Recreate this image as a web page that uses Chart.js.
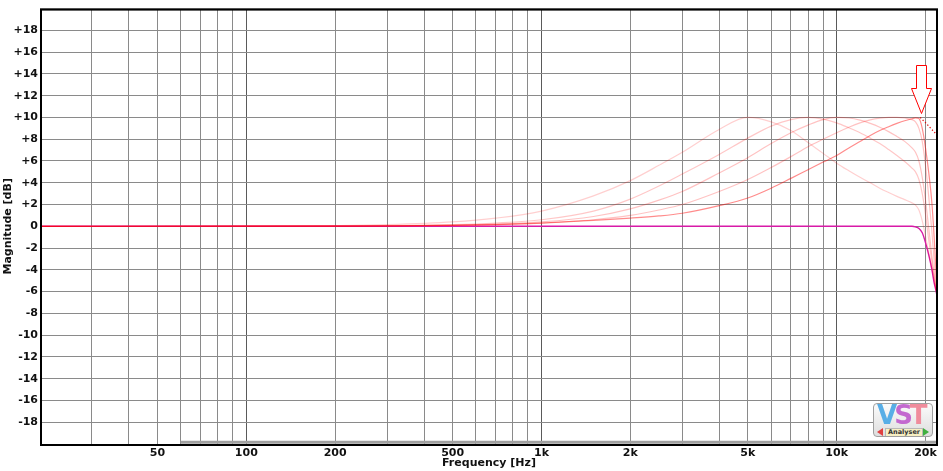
<!DOCTYPE html>
<html>
<head>
<meta charset="utf-8">
<script src="https://cdn.jsdelivr.net/npm/chart.js@4.4.1/dist/chart.umd.min.js"></script>
<style>
  html,body{margin:0;padding:0;background:#fff;}
  #wrap{position:relative;width:943px;height:471px;}
  #c{position:absolute;left:0;top:0;}
  #logo{position:absolute;left:873px;top:403px;width:58px;height:32px;border:1px solid #a0a0a0;border-radius:4px;
        background:linear-gradient(#fbfbfb,#dedede);overflow:hidden;}
  #logo .vst{position:absolute;left:3px;top:-3px;font:bold 26px "DejaVu Sans";letter-spacing:-3px;line-height:28px;}
  #logo .lab{position:absolute;left:11px;top:24px;width:36px;height:7px;background:#f7efc2;border:1px solid #b8b8b8;
        font:bold 6.5px "DejaVu Sans";line-height:7px;text-align:center;color:#333;}
  #logo .al{position:absolute;left:3px;top:24px;width:0;height:0;border-top:4.5px solid transparent;border-bottom:4.5px solid transparent;border-right:6px solid #e04040;}
  #logo .ar{position:absolute;left:49px;top:24px;width:0;height:0;border-top:4.5px solid transparent;border-bottom:4.5px solid transparent;border-left:6px solid #40b040;}
</style>
</head>
<body>
<div id="wrap">
<canvas id="c" width="943" height="471"></canvas>
<div id="logo">
  <div class="vst"><span style="color:#58aee6">V</span><span style="color:#c368cf">S</span><span style="color:#f08c9c">T</span></div>
  <div class="al"></div><div class="lab">Analyser</div><div class="ar"></div>
</div>
</div>
<script>
// ---- data ----
const freqs = [20,100,200,300,500,700,1000,1500,2000,2500,3000,4000,5000,6000,7000,8000,9000,10000,11000,12000,13000,14000,15000,16000,17000,18000,18500,19000,19500,20000,20500,21000,21400,21700,22050];
const bell5k  = [0,0.02,0.07,0.15,0.4,0.75,1.4,2.8,4.2,5.6,6.8,8.9,10.0,9.6,8.8,7.7,6.7,5.8,5.1,4.5,4.0,3.5,3.1,2.75,2.45,2.15,1.95,1.5,0.5,-0.9,-2.4,-3.8,-5.0,-5.8,-6.8];
const bell8k  = [0,0.01,0.03,0.06,0.15,0.3,0.6,1.4,2.5,3.7,4.8,6.6,8.1,9.2,9.8,10.0,9.85,9.5,9.05,8.6,8.1,7.6,7.05,6.5,5.95,5.35,5.0,4.3,3.0,1.1,-1.2,-3.2,-4.7,-5.7,-6.8];
const bell10k = [0,0.01,0.02,0.04,0.1,0.2,0.4,0.9,1.6,2.4,3.2,4.9,6.3,7.6,8.6,9.3,9.8,10.0,9.95,9.75,9.45,9.1,8.7,8.25,7.8,7.2,6.8,6.0,4.5,2.4,-0.1,-2.6,-4.4,-5.6,-6.8];
const bell15k = [0,0.01,0.02,0.03,0.08,0.15,0.3,0.6,1.0,1.5,2.0,3.2,4.3,5.4,6.4,7.3,8.0,8.6,9.1,9.5,9.78,9.93,10.0,10.0,9.95,9.8,9.6,9.0,7.8,5.6,2.8,-0.3,-3.2,-5.2,-6.8];
const bell19k = [0,0.01,0.02,0.03,0.08,0.15,0.3,0.55,0.75,0.95,1.2,1.9,2.6,3.5,4.4,5.2,5.9,6.5,7.2,7.8,8.35,8.8,9.15,9.45,9.7,9.88,9.97,9.9,9.0,7.2,5.0,2.3,-1.0,-4.0,-6.8];
const lowpass = [0,0,0,0,0,0,0,0,0,0,0,0,0,0,0,0,0,0,0,0,0,0,0,0,0,0,-0.05,-0.2,-0.6,-1.5,-2.6,-3.9,-5.2,-5.9,-6.8];
const analogFreqs = [19200,20200,21000,21700,22050];
const analogDb    = [10.0,9.4,8.9,8.5,8.3];
const rangeFreqs  = [60,22050];
const rangeDb     = [-19.85,-19.85];
const gridFreqs = [20,30,40,50,60,70,80,90,100,200,300,400,500,600,700,800,900,1000,2000,3000,4000,5000,6000,7000,8000,9000,10000,20000];
const decadeFreqs = [100,1000,10000];
const freqLabels = {50:'50',100:'100',200:'200',500:'500',1000:'1k',2000:'2k',5000:'5k',10000:'10k',20000:'20k'};
const arrowFreq = 19350, arrowTipDb = 10.4;

const pts = (fs, vs) => fs.map((f,i)=>({x:f,y:vs[i]}));
const curve = (vals, color, w) => ({data:pts(freqs, vals), borderColor:color, borderWidth:w, pointRadius:0, cubicInterpolationMode:'monotone', fill:false});

const frame = {
  id:'frame',
  afterDatasetsDraw(chart){
    const {ctx, chartArea:a, scales:{x, y}} = chart;
    const ax = Math.round(x.getPixelForValue(arrowFreq)) + 0.5;
    const ay = Math.round(y.getPixelForValue(arrowTipDb)) + 0.5;
    ctx.save();
    ctx.beginPath();
    ctx.moveTo(ax-5, ay-48); ctx.lineTo(ax+5, ay-48); ctx.lineTo(ax+5, ay-25); ctx.lineTo(ax+10, ay-25);
    ctx.lineTo(ax, ay); ctx.lineTo(ax-10, ay-25); ctx.lineTo(ax-5, ay-25); ctx.closePath();
    ctx.fillStyle = '#fff'; ctx.fill();
    ctx.strokeStyle = '#ff0000'; ctx.lineWidth = 1; ctx.stroke();
    ctx.strokeStyle = '#000'; ctx.lineWidth = 2;
    ctx.strokeRect(a.left+1, a.top+1, 937-(a.left+1), a.bottom+1-(a.top+1));
    ctx.restore();
  }
};

const font = {family:'"DejaVu Sans", Verdana, sans-serif', size:11, weight:'bold'};

new Chart(document.getElementById('c'), {
  type:'line',
  data:{datasets:[
    {data:pts(analogFreqs, analogDb), borderColor:'#e00000', borderWidth:1.2, borderDash:[1.2,2.2], pointRadius:0, fill:false},
    curve(bell19k, 'rgba(255,0,0,0.45)', 1.2),
    curve(bell15k, 'rgba(255,0,0,0.24)', 1.2),
    curve(bell10k, 'rgba(255,0,0,0.24)', 1.2),
    curve(bell8k,  'rgba(255,0,0,0.22)', 1.2),
    curve(bell5k,  'rgba(255,0,0,0.19)', 1.2),
    curve(lowpass, '#d81aa8', 1.4),
    {data:pts(rangeFreqs, rangeDb), borderColor:'#a0a0a0', borderWidth:3, pointRadius:0, fill:false}
  ]},
  options:{
    responsive:false, animation:false, devicePixelRatio:1,
    layout:{padding:{top:6, right:5, left:0, bottom:0}},
    plugins:{legend:{display:false}, tooltip:{enabled:false}},
    scales:{
      x:{
        type:'logarithmic', min:20, max:22050,
        afterBuildTicks:s=>{ s.ticks = gridFreqs.map(v=>({value:v})); },
        afterFit:s=>{ s.height = 27; },
        ticks:{autoSkip:false, maxRotation:0, minRotation:0, padding:3, color:'#111', font,
               callback:v=>freqLabels[v] || ''},
        grid:{drawTicks:false, lineWidth:1, color:c=>decadeFreqs.includes(c.tick && c.tick.value) ? '#5a5a5a' : '#8a8a8a'},
        border:{display:false},
        title:{display:true, text:'Frequency [Hz]', color:'#111', font, padding:{top:0,bottom:1}}
      },
      y:{
        min:-20, max:20,
        afterFit:s=>{ s.width = 40; },
        ticks:{stepSize:2, padding:2, color:'#111', font,
               callback:v=> (v===20||v===-20) ? '' : (v>0 ? '+'+v : String(v))},
        grid:{drawTicks:false, lineWidth:1, color:'#8a8a8a'},
        border:{display:false},
        title:{display:true, text:'Magnitude [dB]', color:'#111', font, padding:{top:2,bottom:0}}
      }
    }
  },
  plugins:[frame]
});
</script>
</body>
</html>
